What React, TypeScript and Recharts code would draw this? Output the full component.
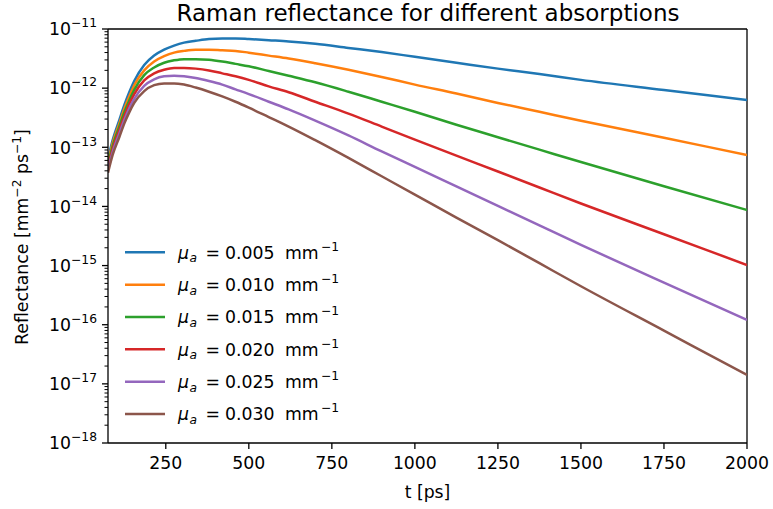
import React from 'react'
import { LineChart, Line, XAxis, YAxis, ReferenceLine } from 'recharts'

// sample times (ps)
const times = [76, 90, 110, 125, 140, 155, 185, 215, 245, 275, 305, 340, 380, 420, 460, 500, 560, 620, 700, 800, 900, 1000, 1125, 1250, 1375, 1500, 1750, 2000]

// log10 of reflectance
const mu005 = [-13.2, -12.88, -12.54, -12.29, -12.07, -11.88, -11.61, -11.45, -11.35, -11.28, -11.23, -11.2, -11.17, -11.16, -11.16, -11.17, -11.19, -11.21, -11.25, -11.32, -11.39, -11.47, -11.57, -11.67, -11.76, -11.86, -12.03, -12.2]
const mu010 = [-13.25, -12.93, -12.6, -12.35, -12.14, -11.95, -11.7, -11.55, -11.46, -11.4, -11.37, -11.35, -11.35, -11.36, -11.37, -11.4, -11.45, -11.5, -11.58, -11.69, -11.81, -11.94, -12.09, -12.25, -12.4, -12.55, -12.84, -13.13]
const mu015 = [-13.29, -12.98, -12.65, -12.41, -12.21, -12.03, -11.78, -11.65, -11.57, -11.53, -11.51, -11.51, -11.52, -11.55, -11.59, -11.63, -11.71, -11.79, -11.9, -12.06, -12.23, -12.4, -12.62, -12.83, -13.04, -13.25, -13.66, -14.06]
const mu020 = [-13.34, -13.03, -12.71, -12.48, -12.27, -12.1, -11.87, -11.75, -11.69, -11.66, -11.66, -11.67, -11.7, -11.75, -11.8, -11.86, -11.97, -12.07, -12.23, -12.43, -12.65, -12.87, -13.14, -13.41, -13.68, -13.95, -14.47, -14.99]
const mu025 = [-13.38, -13.08, -12.77, -12.54, -12.34, -12.18, -11.96, -11.85, -11.8, -11.79, -11.8, -11.83, -11.88, -11.94, -12.02, -12.1, -12.23, -12.36, -12.55, -12.8, -13.07, -13.33, -13.66, -13.99, -14.32, -14.65, -15.29, -15.92]
const mu030 = [-13.43, -13.13, -12.83, -12.6, -12.41, -12.25, -12.05, -11.95, -11.92, -11.92, -11.94, -11.99, -12.06, -12.14, -12.23, -12.33, -12.49, -12.65, -12.88, -13.18, -13.49, -13.8, -14.19, -14.57, -14.96, -15.35, -16.1, -16.85]

const seriesLabels = ['0.005', '0.010', '0.015', '0.020', '0.025', '0.030']
const seriesKeys = ['mu005', 'mu010', 'mu015', 'mu020', 'mu025', 'mu030']
const colors = ['#1f77b4', '#ff7f0e', '#2ca02c', '#d62728', '#9467bd', '#8c564b']

const xTicks = [250, 500, 750, 1000, 1250, 1500, 1750, 2000]
const yExponents = [-18, -17, -16, -15, -14, -13, -12, -11]
const minorMultipliers = [2, 3, 4, 5, 6, 7, 8, 9]

const FONT = '"DejaVu Sans", sans-serif'
const FS = 17.3
const SUP = 12.3
const PLOT_LEFT = 108
const PLOT_BOTTOM = 443

const data = times.map((t, i) => ({
  t,
  mu005: 10 ** mu005[i],
  mu010: 10 ** mu010[i],
  mu015: 10 ** mu015[i],
  mu020: 10 ** mu020[i],
  mu025: 10 ** mu025[i],
  mu030: 10 ** mu030[i]
}))

const majorTicks = yExponents.map((e) => 10 ** e)
// 2..9 minor ticks in every decade
const minorTicks: number[] = []
yExponents.forEach((e) => {
  if (e < -11) minorMultipliers.forEach((m) => minorTicks.push(m * 10 ** e))
})

const YTick = ({ y, payload }: any) => {
  const e = Math.round(Math.log10(payload.value))
  return (
    <g>
      <line x1={PLOT_LEFT - 6} x2={PLOT_LEFT} y1={y} y2={y} stroke="#000" strokeWidth={1.3} />
      <text x={PLOT_LEFT - 11} y={y + 6.3} textAnchor="end" fontFamily={FONT} fontSize={FS} fill="#000">
        <tspan>10</tspan>
        <tspan dy={-8} fontSize={SUP}>{'\u2212' + Math.abs(e)}</tspan>
      </text>
    </g>
  )
}

// minor tick drawn from the reference line's left end
const MinorTick = (props: any) => (
  <line x1={props.x1 - 3.5} x2={props.x1} y1={props.y1} y2={props.y1} stroke="#000" strokeWidth={1} />
)

const XTick = ({ x, payload }: any) => (
  <g>
    <line x1={x} x2={x} y1={PLOT_BOTTOM} y2={PLOT_BOTTOM + 6} stroke="#000" strokeWidth={1.3} />
    <text x={x} y={PLOT_BOTTOM + 25.5} textAnchor="middle" fontFamily={FONT} fontSize={FS} fill="#000">
      {payload.value}
    </text>
  </g>
)

const legendTop = 252.3
const legendStep = 32.35

export default function App() {
  return (
    <div style={{ position: 'absolute', left: 0, top: 0, width: 773, height: 509, background: '#fff' }}>
      <LineChart width={773} height={509} data={data} margin={{ top: 29, right: 26, bottom: 0, left: 0 }}>
        <XAxis
          dataKey="t"
          type="number"
          domain={[76, 2000]}
          ticks={xTicks}
          interval={0}
          height={66}
          tickLine={false}
          axisLine={{ stroke: '#000', strokeWidth: 1.3 }}
          tick={<XTick />}
          allowDataOverflow
        />
        <YAxis
          type="number"
          scale="log"
          domain={[1e-18, 1e-11]}
          ticks={majorTicks}
          interval={0}
          width={108}
          tickLine={false}
          axisLine={{ stroke: '#000', strokeWidth: 1.3 }}
          tick={<YTick />}
          allowDataOverflow
        />
        {minorTicks.map((v) => (
          <ReferenceLine key={'m' + v} y={v} shape={MinorTick} />
        ))}
        <ReferenceLine y={1e-11} stroke="#000" strokeWidth={1.3} />
        <ReferenceLine x={2000} stroke="#000" strokeWidth={1.3} />
        {seriesKeys.map((k, i) => (
          <Line
            key={k}
            type="monotone"
            dataKey={k}
            stroke={colors[i]}
            strokeWidth={2.5}
            dot={false}
            isAnimationActive={false}
          />
        ))}
      </LineChart>
      <svg width={773} height={509} style={{ position: 'absolute', left: 0, top: 0, pointerEvents: 'none' }}>
        <text x={428} y={21} textAnchor="middle" fontFamily={FONT} fontSize={23} fill="#000">
          Raman reflectance for different absorptions
        </text>
        <text x={427.5} y={498} textAnchor="middle" fontFamily={FONT} fontSize={FS} fill="#000">
          t [ps]
        </text>
        <text transform="translate(28, 237) rotate(-90)" textAnchor="middle" fontFamily={FONT} fontSize={FS} fill="#000">
          <tspan>Reflectance [mm</tspan>
          <tspan dy={-7.5} fontSize={SUP}>{'\u22122'}</tspan>
          <tspan dy={7.5}> ps</tspan>
          <tspan dy={-7.5} fontSize={SUP}>{'\u22121'}</tspan>
          <tspan dy={7.5}>]</tspan>
        </text>
        {seriesLabels.map((lab, i) => {
          const y = legendTop + i * legendStep
          return (
            <g key={lab}>
              <line x1={125} x2={165} y1={y} y2={y} stroke={colors[i]} strokeWidth={2.5} />
              <text y={y + 6.3} fontFamily={FONT} fontSize={FS} fill="#000">
                <tspan x={178} fontStyle="italic">μ</tspan>
                <tspan x={189.5} dy={3.8} fontSize={SUP} fontStyle="italic">a</tspan>
                <tspan x={205.5} dy={-3.8}>=</tspan>
                <tspan x={225}>{lab}</tspan>
                <tspan x={285}>mm</tspan>
                <tspan x={321} dy={-8} fontSize={SUP}>{'\u22121'}</tspan>
              </text>
            </g>
          )
        })}
      </svg>
    </div>
  )
}
